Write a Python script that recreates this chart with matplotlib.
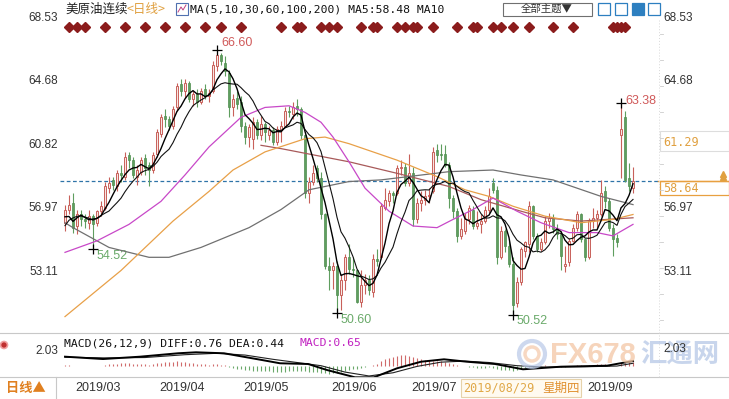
import matplotlib
matplotlib.use('Agg')
import matplotlib.pyplot as plt
from matplotlib.patches import Rectangle, Circle
import numpy as np
import pandas as pd

plt.rcParams['font.family'] = ['Liberation Sans', 'Noto Sans CJK SC']

W, H = 729, 399

# trading days shown on the chart (Feb 27 - Sep 19, 2019)
dates = pd.bdate_range('2019-02-27', '2019-09-19')
dates = dates.drop(pd.to_datetime(['2019-04-19', '2019-05-27', '2019-07-04', '2019-09-02']))

# daily OHLC
opens = [56.1, 56.9, 57.3, 55.9, 56.6, 56.3, 56.1, 56.5, 56.1, 56.8, 57.0, 58.2, 58.7, 58.3, 59.1, 58.9, 60.2, 59.9, 58.9, 59.2, 60.0, 59.6, 59.3,
         60.3, 61.5, 62.6, 62.4, 62.0, 63.1, 64.5, 64.1, 64.6, 63.6, 63.9, 63.4, 64.2, 63.8, 64.1, 65.6, 66.3, 65.8, 65.2, 63.1, 63.7,
         63.4, 62.0, 61.3, 61.2, 62.2, 61.4, 62.1, 61.4, 61.7, 61.0, 61.7, 62.0, 62.9, 62.7, 63.2, 63.0, 61.4, 57.9, 58.6, 59.4, 58.8, 56.6,
         53.5, 53.2, 53.5, 51.7, 52.6, 54.0, 53.3, 53.2, 51.3, 52.3, 52.6, 51.9, 53.9, 54.0, 57.0, 57.4, 57.9, 57.9, 59.4, 59.5,
         58.5, 59.1, 56.3, 57.3, 57.5, 57.7, 58.0, 60.5, 60.3, 60.3, 59.6, 57.6, 56.8, 55.3, 55.6, 56.3, 56.9, 55.9, 56.0, 56.2, 56.9, 58.5,
         58.1, 54.0, 55.6, 54.7, 53.6, 51.2, 52.5, 54.4, 54.8, 57.1, 55.3, 54.5, 54.9, 56.2, 56.4, 55.7, 55.4, 53.5, 53.7, 55.0, 55.8, 56.6,
         55.1, 54.0, 56.2, 56.4, 56.6, 58.0, 57.4, 55.8, 55.2, 61.4, 62.5, 58.8, 58.2]
highs = [57.2, 57.8, 57.9, 56.9, 56.9, 56.6, 56.9, 56.6, 56.9, 57.4, 58.6, 58.9, 58.9, 59.3, 59.6, 60.4, 60.4, 60.1, 59.6, 60.1, 60.3, 59.8, 60.4,
         61.8, 62.7, 63.0, 62.6, 63.2, 64.6, 64.8, 64.8, 64.7, 64.1, 64.2, 64.3, 64.5, 64.2, 65.9, 66.6, 66.4, 66.2, 65.4, 63.9, 64.1,
         63.8, 62.2, 62.1, 62.5, 62.4, 62.6, 62.2, 62.0, 61.9, 62.0, 62.3, 63.1, 63.2, 63.4, 63.6, 63.1, 61.5, 58.9, 59.6, 59.6, 59.2, 56.7,
         54.0, 53.7, 53.8, 53.0, 54.2, 54.8, 54.0, 53.3, 53.2, 53.0, 52.9, 54.2, 54.5, 57.3, 58.2, 58.1, 58.0, 59.6, 59.9, 59.7,
         60.3, 59.5, 57.6, 58.0, 58.1, 58.2, 60.7, 60.9, 60.9, 60.8, 59.8, 57.8, 57.0, 56.4, 56.7, 57.2, 57.1, 56.8, 56.6, 57.1, 58.2, 58.8,
         58.3, 55.9, 55.7, 55.0, 54.0, 52.8, 54.6, 55.0, 57.4, 57.2, 55.5, 55.2, 56.5, 56.7, 56.6, 56.0, 55.6, 54.7, 55.2, 56.0, 56.8, 56.7,
         55.2, 56.4, 57.0, 56.9, 58.7, 58.3, 57.6, 56.0, 55.4, 63.38, 62.9, 59.7, 59.5]
lows = [55.6, 56.6, 55.5, 55.4, 55.9, 55.8, 55.7, 54.52, 55.9, 56.5, 56.9, 57.9, 58.1, 58.0, 58.6, 58.7, 59.4, 58.8, 58.4, 59.0, 59.0, 58.3, 59.1,
        60.1, 61.3, 61.9, 61.7, 61.8, 62.9, 63.8, 63.7, 63.4, 63.2, 63.1, 63.3, 63.6, 63.4, 64.0, 65.3, 65.7, 65.0, 62.5, 62.6, 63.0,
        61.6, 60.9, 60.7, 60.6, 61.2, 61.1, 61.0, 61.1, 60.8, 60.8, 61.0, 61.9, 62.5, 62.4, 62.6, 61.2, 57.6, 57.3, 58.4, 58.6, 56.3, 53.3,
        52.0, 52.1, 50.6, 50.8, 52.0, 53.0, 52.8, 51.2, 51.0, 51.8, 51.7, 51.6, 53.5, 53.9, 56.9, 57.1, 57.3, 57.8, 59.0, 58.3,
        58.3, 55.9, 56.1, 56.8, 57.2, 57.3, 57.9, 59.8, 59.9, 59.5, 57.0, 56.4, 54.9, 55.1, 55.4, 56.0, 55.7, 55.7, 55.5, 56.1, 56.7, 57.9,
        53.6, 53.9, 54.3, 53.4, 50.52, 51.0, 52.3, 54.0, 54.3, 55.1, 54.3, 54.4, 54.8, 55.8, 55.5, 55.1, 53.2, 53.1, 53.5, 54.9, 55.6, 54.9,
        53.8, 53.9, 55.8, 55.8, 56.5, 57.0, 55.6, 54.1, 54.6, 58.8, 58.6, 58.0, 57.9]
closes = [56.9, 57.2, 55.8, 56.6, 56.3, 56.2, 56.5, 56.0, 56.8, 57.1, 58.3, 58.5, 58.4, 59.1, 59.0, 60.1, 59.9, 59.0, 59.3, 59.9, 59.4, 59.3, 60.2,
          61.6, 62.5, 62.4, 62.0, 63.0, 64.4, 64.1, 64.6, 63.6, 63.9, 63.4, 64.1, 63.8, 64.0, 65.7, 66.3, 65.9, 65.3, 63.1, 63.6, 63.3,
          62.0, 61.3, 61.9, 62.2, 61.4, 62.1, 61.6, 61.7, 61.0, 61.8, 62.0, 62.9, 62.8, 63.1, 63.0, 61.4, 57.9, 58.6, 59.1, 58.8, 56.6, 53.5,
          53.2, 53.5, 51.7, 52.6, 54.0, 53.3, 53.2, 51.3, 52.3, 52.6, 52.0, 53.9, 53.8, 57.1, 57.5, 57.9, 57.8, 59.4, 59.5, 58.5,
          59.1, 56.3, 57.3, 57.5, 57.7, 57.8, 60.4, 60.2, 60.2, 59.6, 57.6, 56.8, 55.3, 55.7, 56.3, 57.0, 55.9, 56.1, 56.2, 56.9, 57.7, 58.1,
          54.0, 55.6, 54.7, 53.6, 51.1, 52.5, 54.5, 54.9, 57.1, 55.3, 54.5, 54.9, 56.2, 56.4, 55.7, 55.4, 54.1, 53.6, 55.0, 55.8, 56.6, 55.1,
          54.0, 56.2, 56.4, 56.6, 57.9, 57.4, 55.8, 55.1, 54.9, 61.8, 58.7, 58.3, 58.64]
# closes just before the visible window, so MA5/MA10 start at the left edge
pre_close = [53.9, 54.4, 55.6, 56.1, 56.9, 57.1, 57.3, 55.5, 55.5]

# longer moving averages at (bar index, value)
ma30_i = [0, 8, 16, 24, 30, 36, 40, 44, 50, 56, 60, 64, 67, 71, 75, 81, 87, 93, 97, 102, 107, 113, 119, 126, 133, 137, 142]
ma30_v = [54.3, 55.0, 56.0, 57.4, 59.0, 60.7, 61.6, 62.5, 63.1, 63.2, 62.8, 62.2, 61.3, 59.8, 58.2, 56.8, 55.9, 55.8, 56.3, 56.9,
          57.6, 56.8, 56.1, 55.5, 55.5, 55.3, 56.0]
ma60_i = [0, 14, 27, 36, 42, 50, 55, 60, 65, 71, 83, 93, 100, 106, 112, 120, 129, 137, 142]
ma60_v = [50.4, 53.2, 56.2, 58.0, 59.3, 60.4, 60.8, 61.2, 61.3, 60.9, 59.9, 58.9, 58.1, 57.7, 57.1, 56.5, 56.1, 56.3, 56.6]
ma100_i = [0, 2, 11, 21, 26, 34, 46, 54, 61, 71, 79, 96, 107, 114, 122, 134, 142]
ma100_v = [56.1, 55.8, 54.6, 54.0, 54.0, 54.6, 55.8, 56.9, 58.1, 58.6, 58.7, 59.2, 59.3, 59.0, 58.7, 57.7, 57.2]
ma200_i = [49, 54, 71, 83, 96, 104, 114, 120, 129, 142]
ma200_v = [60.8, 60.6, 59.8, 59.1, 58.3, 57.5, 56.8, 56.4, 56.2, 56.4]

# MACD pane
diff_i = [0, 9.5, 18.75, 28.25, 32.75, 39.75, 49.25, 53.75, 60.75, 65.5, 72.5, 77.25, 83, 89, 94.75, 100.5, 107.5, 114.5, 124, 135.5, 142]
diff_v = [1.37, 1.04, 1.37, 1.85, 1.99, 1.85, 0.90, 0.44, 0.34, -0.51, -1.54, -1.54, -0.27, 0.66, 1.0, 0.66, 0.34, -0.41, -0.04, 0.10, 0.76]
dea_i = [0, 10, 20, 30, 38, 45, 52, 58, 64, 70, 76, 82, 88, 94, 100, 106, 113, 120, 130, 138, 142]
dea_v = [1.3, 1.2, 1.25, 1.65, 1.85, 1.6, 1.0, 0.55, 0.1, -0.8, -1.35, -0.9, 0.0, 0.6, 0.75, 0.55, 0.1, -0.1, -0.05, 0.05, 0.44]
macd_hist = [0.15, 0.15, 0.1, 0.1, 0.1, 0.05, 0.05, 0.05, 0.1, 0.1,
             0.2, 0.3, 0.35, 0.4, 0.45, 0.5, 0.45, 0.4, 0.35, 0.35, 0.3, 0.25,
             0.3, 0.45, 0.55, 0.6, 0.6, 0.65, 0.7, 0.65, 0.6,
             0.5, 0.45, 0.4, 0.35, 0.3, 0.25, 0.3, 0.35, 0.25, 0.15,
             -0.1, -0.2, -0.3, -0.4, -0.5, -0.55, -0.6, -0.6, -0.65, -0.7,
             -0.7, -0.75, -0.8, -0.8, -0.75, -0.7, -0.65, -0.6, -0.6, -0.7,
             -0.75, -0.8, -0.85, -0.9, -1.0, -1.05, -1.0, -0.9, -0.8, -0.65,
             -0.5, -0.4, -0.3, -0.2, -0.1, 0.05, 0.2, 0.4, 0.7,
             1.0, 1.2, 1.35, 1.45, 1.55, 1.55, 1.5, 1.3, 1.2, 1.1, 0.95, 0.85, 0.8, 0.75,
             0.7, 0.6, 0.45, 0.3, 0.15, 0.05, 0.0,
             -0.1, -0.15, -0.2, -0.25, -0.2, -0.15, -0.2, -0.35, -0.45, -0.5, -0.55, -0.6,
             -0.5, -0.4, -0.25, -0.1, -0.05, 0.05, 0.1, 0.15,
             0.1, 0.05, -0.05, -0.1, -0.05, 0.05, 0.1, 0.2, 0.15, 0.05,
             0.15, 0.25, 0.3, 0.4, 0.35, 0.2, 0.1, 0.05, 0.5, 0.55, 0.6, 0.65]

# news markers along the top
event_bars = [1, 3, 5, 10, 15, 20, 25, 30, 35, 39, 44, 54, 58, 59, 64, 66, 68, 74, 77, 78, 83, 85, 87, 88, 92, 98,
              102, 103, 107, 109, 112, 116, 122, 127, 137, 138, 139, 140]

left_ticks = [68.53, 64.68, 60.82, 56.97, 53.11]
right_ticks = [68.53, 64.68, 56.97, 53.11]
last_price = 58.64
mark_price = 61.29

UP = '#c8605a'
DN = '#5f9e5f'

n = len(closes)
x = np.arange(n)
o, h, l, c = map(np.array, (opens, highs, lows, closes))

fig = plt.figure(figsize=(W / 100, H / 100), dpi=100)
fig.patch.set_facecolor('white')


def frac(x0, y0, x1, y1):
    return [x0 / W, 1 - y1 / H, (x1 - x0) / W, (y1 - y0) / H]


# price pane, pixel 60..658 x 10..330
ax = fig.add_axes(frac(60, 10, 658, 330))
ax.set_xlim(-1.25, 148.25)
ax.set_ylim(68.53 - (330 - 18) / 16.47, 68.53 + 8 / 16.47)
ax.axis('off')

up = c >= o
ax.vlines(x[up], l[up], h[up], color=UP, lw=0.8, zorder=2)
ax.vlines(x[~up], l[~up], h[~up], color=DN, lw=0.8, zorder=2)
body = np.maximum(np.abs(c - o), 0.06)
ax.bar(x[up], body[up], bottom=o[up], width=0.72, facecolor='#f7e6e2', edgecolor=UP, lw=0.7, zorder=3)
ax.bar(x[~up], body[~up], bottom=np.minimum(o, c)[~up], width=0.72, facecolor=DN, edgecolor='#4f8e4f', lw=0.5, zorder=3)

s = pd.Series(pre_close + closes)
ma5 = s.rolling(5).mean().iloc[len(pre_close):].values
ma10 = s.rolling(10).mean().iloc[len(pre_close):].values
ax.plot(ma200_i, ma200_v, color='#a85a5a', lw=0.9, zorder=4)
ax.plot(ma100_i, ma100_v, color='#707070', lw=0.9, zorder=4)
ax.plot(ma60_i, ma60_v, color='#e8a048', lw=0.9, zorder=4)
ax.plot(ma30_i, ma30_v, color='#c848c8', lw=0.9, zorder=4)
ax.plot(x, ma10, color='#111111', lw=0.8, zorder=5)
ax.plot(x, ma5, color='#000000', lw=1.0, zorder=5)

ax.axhline(last_price, color='#2f74a8', lw=0.9, ls=(0, (3, 2)), zorder=1)

# extreme markers
for i, p in [(38, 66.60), (7, 54.52), (68, 50.60), (112, 50.52), (139, 63.38)]:
    ax.plot(i, p, marker='+', color='black', ms=7, mew=0.9, zorder=6)
ax.text(39, 66.60 + 0.05, '66.60', color='#d05a5a', fontsize=9, va='bottom', ha='left')
ax.text(140, 63.38 - 0.25, '63.38', color='#d05a5a', fontsize=9, va='bottom', ha='left')
ax.text(8, 54.52 - 0.05, '54.52', color='#6aaa6a', fontsize=9, va='top', ha='left')
ax.text(69, 50.60 - 0.05, '50.60', color='#6aaa6a', fontsize=9, va='top', ha='left')
ax.text(113, 50.52 - 0.05, '50.52', color='#6aaa6a', fontsize=9, va='top', ha='left')

# MACD pane, pixel 334..378
mx = fig.add_axes(frac(60, 334, 658, 378))
mx.set_xlim(-1.25, 148.25)
mx.set_ylim((366.4 - 378) / 7.09, (366.4 - 334) / 7.09)
mx.axis('off')
hist = np.array(macd_hist)
mx.vlines(x[hist >= 0], 0, hist[hist >= 0], color='#d06a6a', lw=0.8)
mx.vlines(x[hist < 0], 0, hist[hist < 0], color='#6aa86a', lw=0.8)
mx.plot(dea_i, dea_v, color='#222222', lw=0.8)
mx.plot(diff_i, diff_v, color='#000000', lw=1.4)

# overlay in pixel coordinates for all the chrome
ov = fig.add_axes([0, 0, 1, 1], zorder=10)
ov.set_xlim(0, W)
ov.set_ylim(H, 0)
ov.axis('off')


def bar_px(i):
    return 60 + (i + 1.25) * 598 / 149.5


def price_px(p):
    return 18 + (68.53 - p) * 16.47


cjk = ['Noto Sans CJK SC']
mono = ['DejaVu Sans Mono', 'Noto Sans CJK SC']

# title row
ov.text(65, 9, '美原油连续', family=cjk, fontsize=9, color='#222222', va='center')
ov.text(127, 9, '<日线>', family=cjk, fontsize=9, color='#e0a040', va='center')
ov.add_patch(Rectangle((176, 3), 12, 12, fill=False, ec='#5070b0', lw=0.8))
ov.plot([178, 181, 183, 186], [12, 7, 10, 5], color='#c04080', lw=0.7)
ov.text(190, 9, 'MA(5,10,30,60,100,200) MA5:58.48 MA10', family=mono, fontsize=8.2,
        color='#111111', va='center')
ov.add_patch(Rectangle((503, 3), 89, 13, fill=False, ec='#707070', lw=0.8))
ov.text(547, 9.5, '全部主题▼', family=cjk, fontsize=7.5, color='#333333', va='center', ha='center')
for k, x0 in enumerate([598, 615, 632, 648]):
    filled = k == 2
    ov.add_patch(Rectangle((x0, 3), 12, 12, fc='#2d7fc0' if filled else 'white', ec='#2d7fc0', lw=0.9))

# event diamonds
ov.plot([bar_px(i) for i in event_bars], [27] * len(event_bars), ls='none', marker='D',
        ms=4.6, color='#8b1c1c')

# axis labels
for p in left_ticks:
    ov.text(58, price_px(p), f'{p:.2f}', fontsize=8.5, color='#333333', ha='right', va='center')
for p in right_ticks:
    ov.text(663, price_px(p), f'{p:.2f}', fontsize=8.5, color='#333333', ha='left', va='center')
ov.text(58, 351, '2.03', fontsize=8.5, color='#333333', ha='right', va='center')
for yy in np.arange(34, 330, 26):
    ov.plot([660, 663], [yy, yy], color='#cccccc', lw=0.6)

# right side price tags
ov.add_patch(Rectangle((660, 131), 69, 20, fill=False, ec='#dddddd', lw=0.8))
ov.text(663, 142, f'{mark_price:.2f}', family=mono, fontsize=8.5, color='#e0a040', va='center')
yl = price_px(last_price)
ov.plot([658, 729], [yl, yl], color='#e8a040', lw=1.0)
ov.add_patch(Rectangle((660, yl), 69, 14, fill=False, ec='#e8a040', lw=0.9))
ov.text(663, yl + 7.5, f'{last_price:.2f}', family=mono, fontsize=8.5, color='#e0a040', va='center')
ov.plot(723, yl - 4, marker='^', ms=4.5, color='#e0a040')
ov.plot(723, yl - 7, marker='^', ms=4.5, color='#e0a040')

# pane separators
ov.plot([0, W], [333, 333], color='#c8c8c8', lw=0.8)
ov.plot([0, W], [377, 377], color='#c8c8c8', lw=0.8)
ov.plot([659, 659], [20, 377], color='#d8d8d8', lw=0.7, ls=(0, (1, 2)))
ov.plot([56, 56], [377, H], color='#c8c8c8', lw=0.8)

# MACD title
ov.text(64, 343, 'MACD(26,12,9) DIFF:0.76 DEA:0.44 ', family=mono, fontsize=8.2, color='#111111', va='center')
ov.text(64 + 34 * 6.93, 343, 'MACD:0.65', family=mono, fontsize=8.2, color='#c020c0', va='center')
ov.add_patch(Circle((4, 345), 3.5, fc='#c03030', ec='#f0a0a0', lw=1.2))

# watermark, with the right-hand MACD label drawn on top of it as in the original
ov.add_patch(Circle((532, 354), 13, fill=False, ec='#b8c8e8', lw=3, alpha=0.7))
ov.add_patch(Circle((532, 354), 7, fill=False, ec='#f5c8a8', lw=2.5, alpha=0.7))
ov.text(550, 355, 'FX678', fontsize=21, fontweight='bold', color='#f3c6a4', alpha=0.75, va='center')
ov.text(640, 355, '汇通网', family=cjk, fontsize=19, fontweight='bold', color='#b6c8e6', alpha=0.75, va='center')
ov.text(663, 349, '2.03', fontsize=8.5, color='#333333', ha='left', va='center', zorder=5)

# date axis
ov.text(6, 388, '日线▲', family=cjk, fontsize=9.5, fontweight='bold', color='#e08020', va='center')
month_starts = [i for i in range(1, n) if dates[i].month != dates[i - 1].month]
for i in month_starts:
    if dates[i].month == 8:
        continue
    ov.text(bar_px(i) + 2, 388, dates[i].strftime('%Y/%m'), fontsize=9, color='#333333', va='center')
ov.add_patch(Rectangle((461, 379), 120, 18, fc='#fffaf0', ec='#e6d2aa', lw=0.8))
ov.text(463, 388, '2019/08/29', family=mono, fontsize=8.5, color='#e0a848', va='center')
ov.text(542, 388, '星期四', family=cjk, fontsize=9, color='#e09030', va='center')

fig.savefig('out.png', dpi=100, facecolor='white')
